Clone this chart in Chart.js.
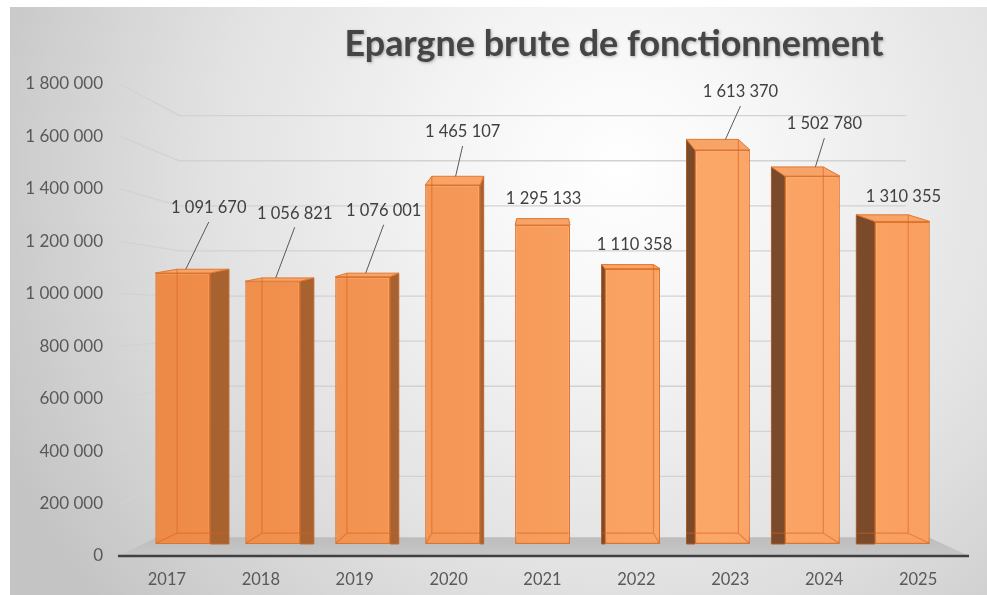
<!DOCTYPE html>
<html>
<head>
<meta charset="utf-8">
<script src="https://cdn.jsdelivr.net/npm/chart.js@4.4.1/dist/chart.umd.min.js"></script>
<style>
  html, body { margin: 0; padding: 0; background: #fff; }
  #wrap { width: 987px; height: 595px; position: relative; }
</style>
</head>
<body>
<div id="wrap"><canvas id="chart"></canvas></div>
<script>
// data
const years = ['2017', '2018', '2019', '2020', '2021', '2022', '2023', '2024', '2025'];
const epargne = [1091670, 1056821, 1076001, 1465107, 1295133, 1110358, 1613370, 1502780, 1310355];
const yTicks = [0, 200000, 400000, 600000, 800000, 1000000, 1200000, 1400000, 1600000, 1800000];
const title = 'Epargne brute de fonctionnement';

// fake 3D geometry (Excel style perspective)
const VX = 544;          // vanishing x
const VY = 340;          // vanishing y for bar tops
const K_BAR = 0.056;     // bar depth
const K_WALL = 0.14;     // back wall depth
const VY_WALL = 310;
const K_FLOOR = 0.087;
const DEPTH_X = 0.958;   // bars sit a bit behind the category labels

// value axis used by the bars (front plane of the bars)
const BAR_MIN = -109000, BAR_MAX = 1893500, BAR_BASE = -58000;

// data label placement, relative to the top of each bar
const labelDx = [26, 22, 21, 10, 1, 2, 18, 12, 1];
const labelDy = [-65, -68, -66, -53, -26, -24, -58, -52, -25];
const leader = [true, true, true, true, false, false, true, true, false];

const fmt = v => String(v).replace(/\B(?=(\d{3})+(?!\d))/g, ' ');
const FONT = 'Lato, "Open Sans", sans-serif';

function barBoxes(chart) {
    const meta = chart.getDatasetMeta(0);
    return meta.data.map(el => {
        const p = el.getProps(['x', 'y', 'base', 'width'], true);
        const L = VX + (p.x - p.width / 2 - VX) * DEPTH_X;
        const R = VX + (p.x + p.width / 2 - VX) * DEPTH_X;
        const T = p.y, B = p.base;
        return {
            L, R, T, B,
            cx: (L + R) / 2,
            bL: L + (VX - L) * K_BAR,
            bR: R + (VX - R) * K_BAR,
            bT: T - (VY - T) * K_BAR
        };
    });
}

function poly(ctx, pts, fill, stroke) {
    ctx.beginPath();
    ctx.moveTo(pts[0][0], pts[0][1]);
    for (let i = 1; i < pts.length; i++) ctx.lineTo(pts[i][0], pts[i][1]);
    ctx.closePath();
    ctx.fillStyle = fill;
    ctx.fill();
    if (stroke) {
        ctx.strokeStyle = stroke;
        ctx.lineWidth = 1;
        ctx.stroke();
    }
}

const scene3d = {
    id: 'scene3d',
    beforeDraw(chart) {
        const ctx = chart.ctx;
        ctx.save();
        ctx.fillStyle = '#ffffff';
        ctx.fillRect(0, 0, chart.width, chart.height);
        const g = ctx.createRadialGradient(620, 170, 0, 620, 170, 680);
        g.addColorStop(0, '#ffffff');
        g.addColorStop(0.2, '#f7f7f7');
        g.addColorStop(0.6, '#e2e2e2');
        g.addColorStop(1, '#c4c4c4');
        ctx.fillStyle = g;
        ctx.fillRect(10, 7, chart.width - 10, chart.height - 7);

        // title
        ctx.font = 'bold 36px ' + FONT;
        const w = ctx.measureText(title).width;
        ctx.translate(614, 56);
        ctx.scale(539 / w, 1);
        ctx.shadowColor = 'rgba(0,0,0,0.3)';
        ctx.shadowBlur = 3;
        ctx.shadowOffsetX = 1;
        ctx.shadowOffsetY = 1;
        ctx.fillStyle = '#454545';
        ctx.textAlign = 'center';
        ctx.textBaseline = 'alphabetic';
        ctx.fillText(title, 0, 0);
        ctx.restore();
    },
    beforeDatasetsDraw(chart) {
        const ctx = chart.ctx;
        const ca = chart.chartArea;
        const y = chart.scales.y;
        ctx.save();

        // gridlines: front tick -> back wall
        const backL = ca.left + (VX - ca.left) * K_WALL;
        const backR = ca.right + (VX - ca.right) * K_WALL;
        ctx.strokeStyle = '#d2d2d2';
        ctx.lineWidth = 1.3;
        yTicks.forEach(v => {
            if (v === 0) return;
            const py = y.getPixelForValue(v);
            const by = py + (VY_WALL - py) * K_WALL;
            ctx.beginPath();
            ctx.moveTo(ca.left, py);
            ctx.lineTo(backL, by);
            ctx.lineTo(backR, by);
            ctx.stroke();
        });

        // floor
        const fy = ca.bottom + (VY - ca.bottom) * K_FLOOR;
        const fl = ca.left + (VX - ca.left) * K_FLOOR;
        const fr = ca.right + (VX - ca.right) * K_FLOOR;
        const fg = ctx.createLinearGradient(0, fy, 0, ca.bottom);
        fg.addColorStop(0, '#bdbdbd');
        fg.addColorStop(1, '#c6c6c6');
        poly(ctx, [[ca.left - 2, ca.bottom], [fl, fy], [fr, fy], [ca.right + 4, ca.bottom]], fg);

        // axis line
        ctx.strokeStyle = '#404040';
        ctx.lineWidth = 2.5;
        ctx.beginPath();
        ctx.moveTo(ca.left - 2, ca.bottom);
        ctx.lineTo(ca.right + 4, ca.bottom);
        ctx.stroke();

        // side and top faces of the bars
        barBoxes(chart).forEach(b => {
            if (b.cx < VX - 2) {
                poly(ctx, [[b.R, b.T], [b.bR, b.bT], [b.bR, b.B], [b.R, b.B]], '#a8622f', '#c0662a');
            } else if (b.cx > VX + 2) {
                poly(ctx, [[b.L, b.T], [b.bL, b.bT], [b.bL, b.B], [b.L, b.B]], '#7a4a2b', '#a85a28');
            }
            poly(ctx, [[b.L, b.T], [b.R, b.T], [b.bR, b.bT], [b.bL, b.bT]], '#f8a367', '#e0782f');
        });

        // push the bars back a little
        ctx.translate(VX, 0);
        ctx.scale(DEPTH_X, 1);
        ctx.translate(-VX, 0);
    },
    afterDatasetsDraw(chart) {
        const ctx = chart.ctx;
        ctx.restore();
        ctx.save();
        const boxes = barBoxes(chart);
        const fy = chart.chartArea.bottom + (VY - chart.chartArea.bottom) * K_FLOOR;

        // back edges seen through the bars
        ctx.strokeStyle = 'rgba(214, 98, 30, 0.55)';
        ctx.lineWidth = 1.2;
        boxes.forEach(b => {
            ctx.beginPath();
            if (b.cx < VX - 2) {
                ctx.moveTo(b.bL, b.bT); ctx.lineTo(b.bL, fy - 4);
                ctx.lineTo(b.L + 1, b.B - 1);
            } else if (b.cx > VX + 2) {
                ctx.moveTo(b.bR, b.bT); ctx.lineTo(b.bR, fy - 4);
                ctx.lineTo(b.R - 1, b.B - 1);
            }
            ctx.moveTo(b.bL, fy - 4); ctx.lineTo(b.bR, fy - 4);
            ctx.stroke();
        });

        // data labels
        ctx.font = '16.5px ' + FONT;
        ctx.textAlign = 'center';
        ctx.textBaseline = 'middle';
        boxes.forEach((b, i) => {
            const lx = b.cx + labelDx[i];
            const ly = b.T + labelDy[i];
            if (leader[i]) {
                ctx.strokeStyle = '#595959';
                ctx.lineWidth = 1;
                ctx.beginPath();
                ctx.moveTo(lx, ly + 14);
                ctx.lineTo(b.cx + 3, b.bT);
                ctx.stroke();
            }
            ctx.fillStyle = '#404040';
            ctx.fillText(fmt(epargne[i]), lx, ly);
        });
        ctx.restore();
    }
};

new Chart(document.getElementById('chart'), {
    type: 'bar',
    data: {
        labels: years,
        datasets: [{
            label: title,
            data: epargne,
            yAxisID: 'yBar',
            base: BAR_BASE,
            barPercentage: 0.611,
            categoryPercentage: 1,
            borderWidth: 1.5,
            borderSkipped: false,
            borderColor: '#e0722a',
            backgroundColor: ctx => {
                const area = ctx.chart.chartArea;
                if (!area) return '#f29450';
                const g = ctx.chart.ctx.createLinearGradient(area.left, 0, area.right, 0);
                g.addColorStop(0, '#ee8946');
                g.addColorStop(0.45, '#f69a59');
                g.addColorStop(0.7, '#fba768');
                g.addColorStop(1, '#f99f5f');
                return g;
            }
        }]
    },
    options: {
        responsive: true,
        maintainAspectRatio: false,
        animation: false,
        layout: { padding: { top: 84, right: 22, bottom: 0, left: 0 } },
        plugins: {
            legend: { display: false },
            title: { display: false },
            tooltip: { enabled: false }
        },
        scales: {
            x: {
                grid: { display: false, drawTicks: false },
                border: { display: false },
                ticks: {
                    color: '#595959',
                    font: { family: FONT, size: 16.5 },
                    padding: 14
                },
                afterFit(scale) { scale.height = 39; }
            },
            y: {
                position: 'left',
                min: 0,
                max: 1800000,
                grid: { display: false, drawTicks: false },
                border: { display: false },
                afterBuildTicks(scale) { scale.ticks = yTicks.map(v => ({ value: v })); },
                ticks: {
                    color: '#595959',
                    font: { family: FONT, size: 17 },
                    padding: 17,
                    callback: v => fmt(v)
                },
                afterFit(scale) { scale.width = 120; }
            },
            yBar: {
                display: false,
                min: BAR_MIN,
                max: BAR_MAX
            }
        }
    },
    plugins: [scene3d]
});
</script>
</body>
</html>
